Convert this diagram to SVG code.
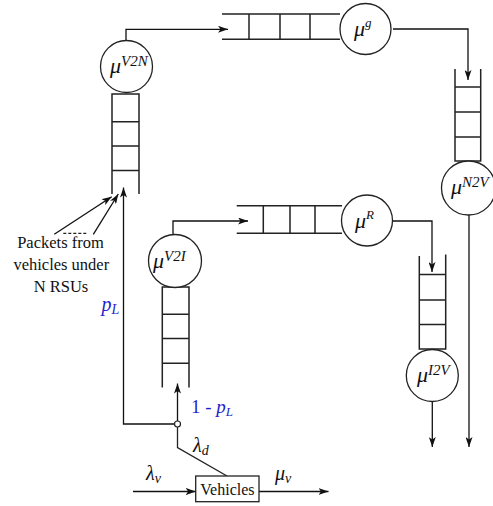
<svg xmlns="http://www.w3.org/2000/svg" width="493" height="506" viewBox="0 0 493 506">
<defs>
<marker id="arr" viewBox="0 0 10 7" refX="10" refY="3.5" markerWidth="10" markerHeight="7" markerUnits="userSpaceOnUse" orient="auto">
<path d="M0,0 L10,3.5 L0,7 L2.5,3.5 z" fill="#111"/>
</marker>
</defs>
<style>
.q{fill:none;stroke:#222;stroke-width:1.5}
.c{fill:#fff;stroke:#222;stroke-width:1.3}
.l{fill:none;stroke:#222;stroke-width:1.3}
.a{fill:none;stroke:#111;stroke-width:1.3;marker-end:url(#arr)}
.m{font-family:"Liberation Serif","Times New Roman","DejaVu Serif",serif;font-style:italic;fill:#111}
.t{font-family:"Liberation Serif","Times New Roman","DejaVu Serif",serif;fill:#111}
.b{font-family:"Liberation Serif","Times New Roman","DejaVu Serif",serif;fill:#1f1fcc}
</style>
<rect width="493" height="506" fill="#fff"/>

<g id="connectors">
<path class="a" d="M126,40.5 V29.3 H228"/>
<path class="a" d="M393,29 H468 V80"/>
<path class="a" d="M469,215 V447"/>
<path class="a" d="M173,234.5 V221 H248"/>
<path class="a" d="M393,221 H432 V272"/>
<path class="a" d="M432.3,401.7 V447"/>
<path class="a" d="M177.5,421 V383.5"/>
<path class="a" d="M174.5,424 H123.5 V187.5"/>
<path class="l" d="M177.5,427 V447.5 L227,476"/>
<path class="a" d="M133,491.5 H195.7"/>
<path class="a" d="M259,491.5 H328.5"/>
<path class="a" d="M54.3,234.3 L111.7,196.7"/>
<path class="a" d="M93.3,234.3 L118.3,194"/>
<path class="l" d="M63.3,233.3 H88.3" stroke-dasharray="3,2" stroke-width="1"/>
</g>

<g id="q-v2n">
<path class="q" d="M112,194 V94 H139 V194 M112,121.7 H139 M112,146 H139 M112,170.5 H139"/>
</g>
<g id="n-v2n">
<circle class="c" cx="126.5" cy="66.5" r="26"/>
<text class="m" x="110" y="73" font-size="22">μ<tspan font-size="15" dy="-7">V2N</tspan></text>
</g>

<g id="q-g">
<path class="q" d="M222,14 H340 M222,39.3 H340 M249,14 V39.3 M280,14 V39.3 M310,14 V39.3"/>
</g>
<g id="n-g">
<circle class="c" cx="365.5" cy="29" r="25.5"/>
<text class="m" x="354" y="36" font-size="22">μ<tspan font-size="13" dy="-9">g</tspan></text>
</g>

<g id="q-n2v">
<path class="q" d="M455,69 V161 H480.7 V69 M455,87 H480.7 M455,112 H480.7 M455,137 H480.7"/>
</g>
<g id="n-n2v">
<circle class="c" cx="468.5" cy="188" r="27"/>
<text class="m" x="451" y="194" font-size="22">μ<tspan font-size="15" dy="-7">N2V</tspan></text>
</g>

<g id="q-r">
<path class="q" d="M236.7,205.7 H342 M236.7,233.3 H342 M263.3,205.7 V233.3 M290,205.7 V233.3 M315,205.7 V233.3"/>
</g>
<g id="n-r">
<circle class="c" cx="367" cy="220.5" r="25.5"/>
<text class="m" x="355" y="228" font-size="22">μ<tspan font-size="13" dy="-9">R</tspan></text>
</g>

<g id="q-i2v">
<path class="q" d="M419.3,256 V349 H445.7 V254.5 M419.3,274.5 H445.7 M419.3,300 H445.7 M419.3,324.5 H445.7"/>
</g>
<g id="n-i2v">
<circle class="c" cx="432.3" cy="375.5" r="26"/>
<text class="m" x="417" y="382" font-size="22">μ<tspan font-size="15" dy="-7">I2V</tspan></text>
</g>

<g id="q-v2i">
<path class="q" d="M162.3,387.5 V287 H189 V387.5 M162.3,314.3 H189 M162.3,338.5 H189 M162.3,363.3 H189"/>
</g>
<g id="n-v2i">
<circle class="c" cx="175" cy="261" r="26.5"/>
<text class="m" x="153" y="268" font-size="22">μ<tspan font-size="15" dy="-7">V2I</tspan></text>
</g>

<g id="junction">
<circle cx="177.5" cy="424" r="3" fill="#fff" stroke="#222" stroke-width="1.2"/>
</g>

<g id="vehicles">
<rect x="195.7" y="476" width="63.3" height="25.7" fill="#fff" stroke="#222" stroke-width="1.3"/>
<text class="t" x="227.4" y="495" font-size="16" text-anchor="middle">Vehicles</text>
</g>

<g id="labels">
<text class="t" font-size="16.5" text-anchor="middle"><tspan x="60.5" y="248">Packets from</tspan><tspan x="61.3" y="270">vehicles under</tspan><tspan x="61" y="292">N RSUs</tspan></text>
<text class="b" x="101.5" y="311" font-size="20"><tspan font-style="italic">p</tspan><tspan font-style="italic" font-size="14" dy="3">L</tspan></text>
<text class="b" x="191" y="412.7" font-size="19">1 - <tspan font-style="italic">p</tspan><tspan font-style="italic" font-size="13" dy="3">L</tspan></text>
<text class="m" x="193" y="452" font-size="20">λ<tspan font-size="14" dy="3">d</tspan></text>
<text class="m" x="146" y="480" font-size="20">λ<tspan font-size="14" dy="3">v</tspan></text>
<text class="m" x="275" y="480" font-size="20">μ<tspan font-size="14" dy="3">v</tspan></text>
</g>
</svg>
